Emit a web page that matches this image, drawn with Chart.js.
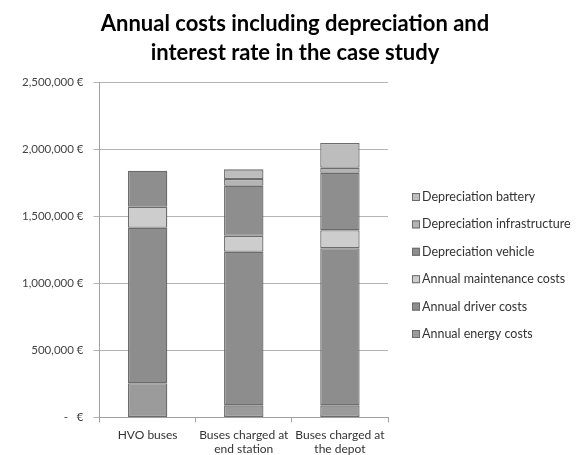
<!DOCTYPE html>
<html>
<head>
<meta charset="utf-8">
<script src="https://cdn.jsdelivr.net/npm/chart.js@4.4.1/dist/chart.umd.min.js"></script>
<style>
  html, body { margin: 0; padding: 0; background: #fff; }
  #wrap { width: 582px; height: 455px; }
</style>
</head>
<body>
<div id="wrap"><canvas id="c" width="582" height="455"></canvas></div>
<script>
// Bus scenarios compared in the case study
const categories = [
  "HVO buses",
  ["Buses charged at", "end station"],
  ["Buses charged at", "the depot"]
];

// Annual cost components (€ per year), stacked bottom to top; null = not applicable
const energyCosts         = [255000,   90000,   90000];
const driverCosts         = [1160000, 1146000, 1172000];
const maintenanceCosts    = [157000,  118000,  134000];
const depreciationVehicle = [268000,  374000,  429000];
const depreciationInfra   = [null,     50000,   37000];
const depreciationBattery = [null,     72000,  185000];

const yTicks = [0, 500000, 1000000, 1500000, 2000000, 2500000];

const series = [
  { label: "Annual energy costs",          data: energyCosts,         fill: "#9b9b9b" },
  { label: "Annual driver costs",          data: driverCosts,         fill: "#8d8d8d" },
  { label: "Annual maintenance costs",     data: maintenanceCosts,    fill: "#cdcdcd" },
  { label: "Depreciation vehicle",         data: depreciationVehicle, fill: "#8e8e8e" },
  { label: "Depreciation infrastructure",  data: depreciationInfra,   fill: "#b4b4b4" },
  { label: "Depreciation battery",         data: depreciationBattery, fill: "#bdbdbd" }
];

const FONT = "Lato, 'Open Sans', sans-serif";

const datasets = series.map(s => ({
  label: s.label,
  data: s.data,
  backgroundColor: s.fill,
  borderColor: "#6c6c6c",
  borderWidth: 1.3,
  borderSkipped: false,
  categoryPercentage: 1.0,
  barPercentage: 0.41,
  yAxisID: "y"
}));

function euro(v) {
  if (v === 0) return "-   €";
  return v.toLocaleString("en-US") + " €";
}

// Legend drawn as a vertical list to the right of the plot, top series first
const sideLegend = {
  id: "sideLegend",
  afterDraw(chart) {
    const ctx = chart.ctx;
    const area = chart.chartArea;
    const x = area.right + 24;
    const step = 27.4;
    const y0 = 197;
    const items = chart.data.datasets.slice().reverse();
    ctx.save();
    ctx.font = "12.5px " + FONT;
    ctx.textBaseline = "middle";
    ctx.textAlign = "left";
    items.forEach((ds, i) => {
      const y = y0 + i * step;
      ctx.fillStyle = ds.backgroundColor;
      ctx.fillRect(x, y - 4, 8, 8);
      ctx.strokeStyle = ds.borderColor;
      ctx.lineWidth = 1;
      ctx.strokeRect(x + 0.5, y - 3.5, 7, 7);
      ctx.fillStyle = "#333";
      ctx.fillText(ds.label, x + 10, y);
    });
    ctx.restore();
  }
};

new Chart(document.getElementById("c"), {
  type: "bar",
  data: { labels: categories, datasets: datasets },
  plugins: [sideLegend],
  options: {
    responsive: false,
    animation: false,
    layout: { padding: { left: 12, right: 4, top: 6, bottom: -7 } },
    plugins: {
      title: {
        display: true,
        text: ["Annual costs including depreciation and", "interest rate in the case study"],
        color: "#000",
        font: { family: FONT, size: 22, weight: "bold", lineHeight: 1.3 },
        padding: { top: 4, bottom: 15 }
      },
      legend: { display: false },
      tooltip: { enabled: false }
    },
    scales: {
      x: {
        stacked: true,
        grid: {
          offset: true,
          drawOnChartArea: false,
          drawTicks: true,
          tickLength: 5,
          color: "#a0a0a0"
        },
        border: { color: "#a0a0a0", width: 1 },
        ticks: {
          color: "#333",
          padding: 6,
          maxRotation: 0,
          font: { family: FONT, size: 12, lineHeight: 1.15 }
        }
      },
      y: {
        stacked: true,
        min: 0,
        max: 2500000,
        afterBuildTicks: axis => { axis.ticks = yTicks.map(v => ({ value: v })); },
        grid: {
          color: "#b4b4b4",
          tickLength: 6,
          drawTicks: true
        },
        border: { color: "#a0a0a0", width: 1 },
        ticks: {
          color: "#444",
          padding: 10,
          font: { family: FONT, size: 11.5 },
          callback: v => euro(v)
        }
      },
      // empty right-hand axis that reserves the space used by the legend
      side: {
        type: "linear",
        position: "right",
        display: true,
        grid: { display: false, drawTicks: false },
        border: { display: false },
        ticks: { display: false },
        afterFit: axis => { axis.width = 190; }
      }
    }
  }
});
</script>
</body>
</html>
